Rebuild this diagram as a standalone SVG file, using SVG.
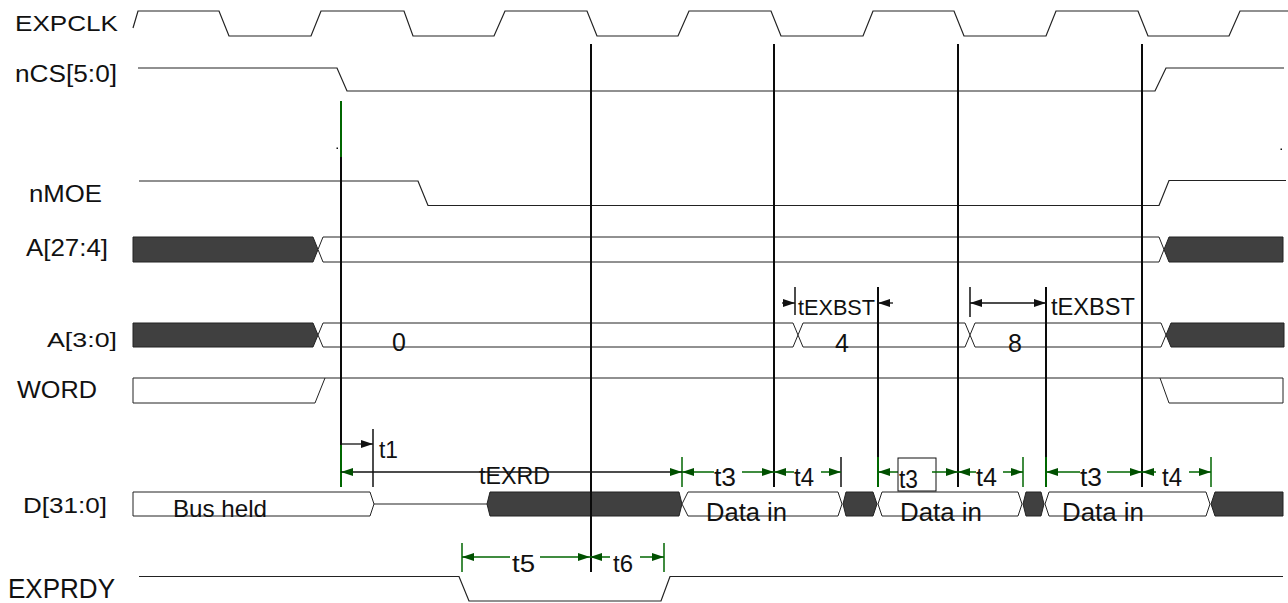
<svg xmlns="http://www.w3.org/2000/svg" width="1288" height="603" viewBox="0 0 1288 603">
<style>
text{font-family:"Liberation Sans",Arial,sans-serif;fill:#111}
.sig{fill:none;stroke:#222;stroke-width:1.2}
.dark{fill:#404040;stroke:#222;stroke-width:1}
.wbus{fill:#fff;stroke:#222;stroke-width:1}
.vl{stroke:#0a0a0a;stroke-width:2}
.tk{stroke:#111;stroke-width:1.5}
.gt{stroke:#006600;stroke-width:1.5}
.ga{stroke:#006600;stroke-width:1.5;fill:none;marker-end:url(#hg)}
.ba{stroke:#111;stroke-width:1.3;fill:none;marker-end:url(#hb)}
</style>
<defs>
<marker id="hg" viewBox="0 0 12 8" refX="12" refY="4" markerWidth="12" markerHeight="8" markerUnits="userSpaceOnUse" orient="auto-start-reverse"><path d="M0,0L12,4L0,8z" fill="#005000"/></marker>
<marker id="hb" viewBox="0 0 12 8" refX="12" refY="4" markerWidth="12" markerHeight="8" markerUnits="userSpaceOnUse" orient="auto-start-reverse"><path d="M0,0L12,4L0,8z" fill="#111"/></marker>
</defs>
<rect width="1288" height="603" fill="#fff"/>

<g id="expclk">
<text x="15" y="31" font-size="22" textLength="103" lengthAdjust="spacingAndGlyphs">EXPCLK</text>
<path class="sig" d="M133,28L138,11H219L229,36H311L321,11H404L413,36H494L505,11H587L597,36H678L689,11H771L781,36H863L873,11H954L964,36H1046L1056,11H1138L1148,36H1229L1240,11H1288"/>
</g>

<g id="ncs">
<text x="15" y="82" font-size="23" textLength="102" lengthAdjust="spacingAndGlyphs">nCS[5:0]</text>
<path class="sig" d="M138,68H337L347,91H1155L1166,68H1284"/>
</g>

<g id="nmoe">
<text x="29" y="202" font-size="24" textLength="73" lengthAdjust="spacingAndGlyphs">nMOE</text>
<path class="sig" d="M139,181H418L428,205.5H1159L1169,180.5H1286"/>
</g>

<g id="a27">
<text x="26" y="256" font-size="24" textLength="82" lengthAdjust="spacingAndGlyphs">A[27:4]</text>
<polygon class="dark" points="133,237 313,237 318,249.5 313,262 133,262"/>
<polygon class="wbus" points="318,249.5 323,237 1159,237 1164,249.5 1159,262 323,262"/>
<polygon class="dark" points="1164,249.5 1169,237 1283,237 1283,262 1169,262"/>
</g>

<g id="a3">
<text x="47" y="347" font-size="20" textLength="70" lengthAdjust="spacingAndGlyphs">A[3:0]</text>
<polygon class="dark" points="133,323 313,323 318,335 313,347 133,347"/>
<polygon class="wbus" points="318,335 323,323 793,323 798,335 793,347 323,347"/>
<polygon class="wbus" points="798,335 803,323 965,323 970,335 965,347 803,347"/>
<polygon class="wbus" points="970,335 975,323 1161,323 1166,335 1161,347 975,347"/>
<polygon class="dark" points="1166,335 1171,323 1284,323 1284,347 1171,347"/>
<text x="392" y="351" font-size="25">0</text>
<text x="835" y="352" font-size="25">4</text>
<text x="1008" y="352" font-size="25">8</text>
</g>

<g id="word">
<text x="17" y="398" font-size="24" textLength="80" lengthAdjust="spacingAndGlyphs">WORD</text>
<polygon class="wbus" points="133,378 325,378 315,403 133,403"/>
<path class="sig" d="M325,378H1160"/>
<polygon class="wbus" points="1160,378 1283,378 1283,403 1169,403"/>
</g>

<g id="d">
<text x="23" y="513" font-size="22" textLength="84" lengthAdjust="spacingAndGlyphs">D[31:0]</text>
<polygon class="wbus" points="133,492 370,492 374,504 370,516 133,516"/>
<path class="sig" d="M374,504H487"/>
<polygon class="dark" points="487,504 490,492 679,492 682,504 679,516 490,516"/>
<polygon class="wbus" points="682,504 688,492 838,492 842,504 838,516 688,516"/>
<polygon class="dark" points="843,504 846,492 873,492 877,504 873,516 846,516"/>
<polygon class="wbus" points="878,504 882,492 1018,492 1022,504 1018,516 882,516"/>
<polygon class="dark" points="1023,504 1026,492 1041,492 1044,504 1041,516 1026,516"/>
<polygon class="wbus" points="1045,504 1049,492 1206,492 1210,504 1206,516 1049,516"/>
<polygon class="dark" points="1211,504 1215,492 1283,492 1283,516 1215,516"/>
<text x="173" y="517" font-size="24" textLength="94" lengthAdjust="spacingAndGlyphs">Bus held</text>
<text x="706" y="521" font-size="25" textLength="81" lengthAdjust="spacingAndGlyphs">Data in</text>
<text x="900" y="521" font-size="25" textLength="82" lengthAdjust="spacingAndGlyphs">Data in</text>
<text x="1062" y="521" font-size="25" textLength="82" lengthAdjust="spacingAndGlyphs">Data in</text>
</g>

<g id="exprdy">
<text x="8" y="598" font-size="27" textLength="107" lengthAdjust="spacingAndGlyphs">EXPRDY</text>
<path class="sig" d="M139,576.5H459L469,601H661L670,576.5H1283"/>
</g>

<g id="connectors">
<line class="gt" x1="341" y1="101" x2="341" y2="157" style="stroke-width:2"/>
<line class="vl" x1="341" y1="157" x2="341" y2="487"/>
<line class="vl" x1="591" y1="44" x2="591" y2="572"/>
<line class="vl" x1="774" y1="44" x2="774" y2="487"/>
<line class="vl" x1="958" y1="44" x2="958" y2="487"/>
<line class="vl" x1="1142" y1="44" x2="1142" y2="487"/>
<line class="vl" x1="878" y1="287" x2="878" y2="487"/>
<line class="vl" x1="1046" y1="287" x2="1046" y2="487"/>
<rect x="336.5" y="147.5" width="1.5" height="1.5" fill="#111"/>
<rect x="1280.5" y="148.5" width="1.5" height="1.5" fill="#111"/>

<line class="tk" x1="795" y1="287" x2="795" y2="315"/>
<line class="tk" x1="970" y1="287" x2="970" y2="317"/>
<path class="ba" d="M782,303H795"/>
<path class="ba" d="M893,303H878"/>
<path class="ba" d="M970,303H1046" style="marker-start:url(#hb)"/>
<text x="798" y="315" font-size="22" textLength="77" lengthAdjust="spacingAndGlyphs">tEXBST</text>
<text x="1051" y="315" font-size="23" textLength="84" lengthAdjust="spacingAndGlyphs">tEXBST</text>

<line class="tk" x1="373" y1="429" x2="373" y2="487"/>
<path class="ba" d="M341,444H373"/>
<text x="379" y="458" font-size="24" textLength="19" lengthAdjust="spacingAndGlyphs">t1</text>

<line class="gt" x1="341" y1="445" x2="341" y2="487" style="stroke-width:2"/>
<line class="gt" x1="682" y1="457" x2="682" y2="487"/>
<line class="tk" x1="841" y1="457" x2="841" y2="487"/>
<line class="gt" x1="878" y1="457" x2="878" y2="487" style="stroke-width:2"/>
<line class="gt" x1="1023" y1="457" x2="1023" y2="487"/>
<line class="gt" x1="1046" y1="457" x2="1046" y2="487" style="stroke-width:2"/>
<line class="gt" x1="1211" y1="457" x2="1211" y2="487"/>
<path d="M341,472H682" style="stroke:#111;stroke-width:1.3;fill:none;marker-start:url(#hg);marker-end:url(#hg)"/>
<text x="479" y="484" font-size="23" textLength="71" lengthAdjust="spacingAndGlyphs">tEXRD</text>

<path class="ga" d="M714,472H682"/>
<path class="ga" d="M742,472H774"/>
<text x="714" y="486" font-size="25" textLength="22" lengthAdjust="spacingAndGlyphs">t3</text>
<path class="ga" d="M794,472H774"/>
<path class="ga" d="M821,472H841"/>
<text x="794" y="486" font-size="25" textLength="20" lengthAdjust="spacingAndGlyphs">t4</text>

<path class="ga" d="M898,472H878"/>
<rect x="898" y="458" width="38" height="33" fill="none" stroke="#111" stroke-width="1"/>
<text x="899" y="488" font-size="25" textLength="19" lengthAdjust="spacingAndGlyphs">t3</text>
<path class="ga" d="M932,472H958"/>
<path class="ga" d="M976,472H958"/>
<path class="ga" d="M1003,472H1023"/>
<text x="976" y="486" font-size="25" textLength="21" lengthAdjust="spacingAndGlyphs">t4</text>

<path class="ga" d="M1080,472H1046"/>
<path class="ga" d="M1107,472H1142"/>
<text x="1080" y="486" font-size="25" textLength="22" lengthAdjust="spacingAndGlyphs">t3</text>
<path class="ga" d="M1156,472H1142"/>
<path class="ga" d="M1189,472H1211"/>
<text x="1162" y="486" font-size="25" textLength="20" lengthAdjust="spacingAndGlyphs">t4</text>

<line class="gt" x1="462" y1="543" x2="462" y2="572"/>
<line class="gt" x1="664" y1="543" x2="664" y2="572"/>
<path class="ga" d="M510,557H462"/>
<path class="ga" d="M540,557H590"/>
<text x="512" y="572" font-size="24" textLength="23" lengthAdjust="spacingAndGlyphs">t5</text>
<path class="ga" d="M610,557H590"/>
<path class="ga" d="M640,557H664"/>
<text x="613" y="572" font-size="24" textLength="20" lengthAdjust="spacingAndGlyphs">t6</text>
</g>
</svg>
